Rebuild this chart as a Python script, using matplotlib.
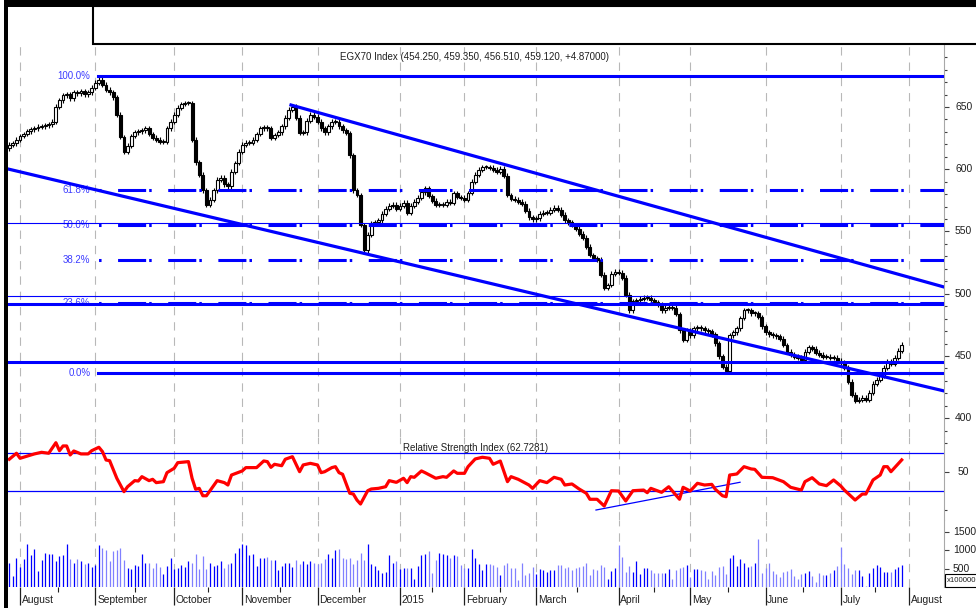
import numpy as np
import matplotlib.pyplot as plt
from matplotlib.patches import Rectangle

plt.rcParams['font.family'] = ['Liberation Sans', 'DejaVu Sans']
plt.rcParams['lines.scale_dashes'] = False

# EGX70 daily closes, end of July 2014 .. end of July 2015 (one per trading day)
closes = [
    619.5, 621, 623.5, 626.7, 628.3, 630.7, 632.3, 633, 634, 634.7, 635.5, 636.3, 638, 650, 655.6, 659.6, 660.4, 657.2,
    662, 661.2, 662.8, 660.4, 662, 665.3, 669.3, 671.7, 667.7, 663.7, 662, 658, 643.6, 625.9, 613.9, 618.7, 626.7,
    629.9, 630.7, 631.5, 633.1, 628.3, 625.1, 623.5, 621.9, 621.9, 633.1, 638, 643.6, 649.2, 652.4, 653.2, 653.2,
    623.5, 605.8, 595.4, 583.3, 571.3, 575.3, 583.3, 591.4,
    593, 588.1, 586.5, 597.8, 605, 613.9, 619.5, 621.1, 621.1, 623.5, 628.3, 633.1, 633.9, 633.1, 625.1, 627.5,
    629.9, 634.7, 641.2, 647.6, 650, 641.2, 629.1, 629.9, 638.8, 643.6, 642, 638, 633.1, 629.9, 634.7, 638, 638,
    634.7, 631.5, 629.1, 611.4, 583.3, 579.3, 555.2, 535.1, 547.2, 556.8, 557.6,
    559.2, 564.1, 568.1, 570.5, 571.3, 568.1, 570.5, 572.9, 564.9, 570.5, 573.7, 576.9, 581.7, 584.9, 578.5, 574.5,
    571.3, 571.3, 571.3, 573.7, 572.9, 580.9, 577.7, 576.9, 575.3, 580.9, 589.8, 595.4, 599.4, 601.8, 601.8, 601,
    599.4, 597.8, 600.2, 594.6, 579.3, 576.1,
    575.3, 573.7, 572.1, 566.5, 561.6, 560, 560.8, 564.1, 564.9, 564.9, 567.3, 568.9, 567.3, 563.3, 559.2, 557.6,
    555.2, 552, 548, 544.8, 537.6, 531.1, 528.7, 527.1, 515.1, 504.6, 507, 515.9, 517.5, 516.7, 512.7, 499, 486.9,
    494.1, 494.9, 495.8, 496.6, 496.6, 494.9, 493.3, 491.7,
    486.9, 488.6, 489.4, 488.6, 483.7, 470.8, 462.9, 470.8, 466.8, 472.4, 473.2, 472.4, 470.8, 470, 467.6, 460.4,
    449.9, 441.2, 438, 466.8, 469.2, 472.4, 480.5, 486.9, 486.9, 484.5, 484.5, 481.3, 474, 469.2, 467.6, 466.8, 466,
    463.7, 458.8, 453.2, 450.8, 449.2, 448.4, 446.8, 453.2,
    457.2, 455.6, 452.4, 450.8, 449.2, 449.2, 448.4, 448.4, 446, 444.4, 440.4, 429.1, 418.7, 413.9, 414.7, 416.3,
    414.7, 420.3, 427.5, 430.7, 434, 440.4, 445.2, 443.6,
    448.4, 454.3, 459.1,
]
first_open = 617.0

# volume, x100000
volumes = [
    655, 300, 790, 545, 755, 1183, 865, 1028, 437, 728, 937, 910, 910, 700, 837, 865, 1183, 755, 655, 755,
    700, 619, 655, 546, 592, 1156, 1065, 1001, 700, 974, 1001, 1065, 728, 519, 500, 592, 564, 910, 655, 655,
    519, 655, 546, 346, 564, 792, 500, 519, 592, 546, 710, 655, 910, 500, 837, 500, 655, 573, 592, 700,
    519, 637, 655, 937, 1074, 1183, 1156, 865, 892, 564, 792, 801, 819, 728, 728, 473, 564, 664, 664, 546,
    728, 619, 700, 637, 700, 655, 619, 655, 774, 910, 792, 1001, 1028, 792, 774, 792, 637, 728, 937, 728,
    1183, 619, 564, 455, 391, 410, 865, 664, 700, 500, 519, 519, 519, 228, 564, 865, 892, 974, 382, 728,
    937, 892, 865, 792, 883, 837, 592, 519, 519, 1028, 801, 637, 473, 637, 637, 592, 546,
    319, 592, 664, 528, 528, 200, 655, 337, 391, 546, 346, 482, 473, 410, 473, 473, 592, 610, 528, 546,
    473, 528, 546, 564, 664, 337, 482, 455, 592, 546, 228, 428, 519, 1156, 819, 410, 564, 410, 700, 346,
    519, 528, 473, 382, 382, 391, 382, 482, 228, 473, 519, 546, 610, 273, 482, 500, 473, 437, 228, 428,
    319, 546, 564, 346, 801, 865, 564, 774, 664, 546, 564, 655, 1320, 382, 519, 655, 428, 364, 273, 410,
    428, 482, 291, 228, 364, 382, 428, 300, 137, 382, 319, 337, 382, 473, 573, 1092, 619, 528, 346, 473,
    455, 291, 18, 382, 528, 592, 546, 410, 410, 410, 500, 546, 592,
]

# RSI read at selected bars
rsi_bars = [0, 2, 3, 7, 9, 11, 13, 14, 15, 16, 17, 18, 20, 22, 23, 25, 26, 27, 28, 30, 32, 33, 35, 36, 37, 39, 40,
            41, 43, 44, 46, 47, 50, 51, 52, 53, 54, 55, 58, 60, 61, 62, 65, 66, 69, 71, 72, 73, 74, 76, 77, 79, 81,
            82, 84, 86, 87, 88, 90, 91, 92, 93, 95, 96, 97, 98, 100, 101, 103, 105, 106, 108, 110, 111, 112, 113,
            115, 116, 119, 121, 122, 124, 125, 127, 128, 130, 132, 134, 135, 137, 139, 140, 142, 145, 146, 148,
            150, 152, 154, 155, 157, 159, 161, 162, 164, 166, 168, 170, 172, 174, 177, 178, 179, 182, 184, 187,
            188, 190, 192, 194, 196, 197, 199, 200, 201, 203, 205, 207, 208, 210, 213, 216, 218, 221, 222, 224,
            226, 228, 230, 232, 233, 235, 236, 238, 239, 241, 243, 244, 245, 246, 249]
rsi_vals = [63.4, 69.7, 64.4, 69, 70.7, 69.7, 80.8, 72.4, 77.4, 77.4, 67.9, 72.1, 69, 69, 72.4, 76, 71.4, 62.6,
            61.9, 43.4, 29.3, 34.5, 40.9, 40.5, 45.1, 40.9, 42.3, 38.8, 39.8, 49.3, 53.9, 59.8, 60.9, 43.4, 31.8,
            32.8, 25, 25, 40.9, 38.8, 36.3, 46.8, 51.1, 54.6, 54.6, 61.6, 60.9, 54.9, 58.1, 56.6, 63.4, 66.1, 50.3,
            57.4, 59.1, 57.4, 49.3, 50.3, 54.6, 55.6, 49.3, 47.6, 27.6, 26.8, 20.5, 16.3, 30.3, 32.1, 32.8, 34.5,
            40.9, 39.1, 43.4, 38.8, 45.1, 44.4, 51.1, 49.3, 43.4, 45.1, 44.4, 51.1, 48.6, 48.6, 55.6, 63.7, 65.5,
            64.4, 58.1, 61.5, 39.8, 45.1, 42.3, 36.3, 32.8, 40.9, 38.8, 44.4, 42.3, 36.3, 37.4, 32.1, 27.6, 21.3,
            21.3, 14.2, 30.3, 30, 19.5, 30.3, 31, 28.2, 32.8, 28.6, 34.5, 21.3, 33.9, 30, 38.1, 36.3, 37, 31.8, 25,
            24, 46.8, 47.9, 55.6, 53.2, 52.8, 44.4, 44, 39.8, 33.9, 31, 39.8, 44, 37.4, 35.6, 41.6, 35.3, 31, 24,
            20.5, 26.8, 26.8, 41.6, 46.8, 55.6, 55.6, 50.3, 62.7]

month_bars = [3, 24, 46, 65, 86, 109, 127, 147, 170, 190, 211, 232, 251]
month_names = ['August', 'September', 'October', 'November', 'December', '2015', 'February', 'March',
               'April', 'May', 'June', 'July', 'August']

# fibonacci retracement
fib_high = 674.9
fib_low = 436.1
fib_start = 24.7
fib_ratios = [1.0, 0.618, 0.5, 0.382, 0.236, 0.0]
fib_labels = ['100.0%', '61.8%', '50.0%', '38.2%', '23.6%', '0.0%']

# drawn lines
lower_channel = ([-0.36, 260.8], [600.2, 421.9])
upper_channel = ([78.6, 260.8], [651.6, 505.4])
thick_levels = [491.6, 444.9]
thin_levels = [556.6, 498.4]
rsi_trend = ([163.7, 203.9], [10.0, 39.2])
rsi_levels = [70, 30]

title = 'EGX70 Index (454.250, 459.350, 456.510, 459.120, +4.87000)'
rsi_title = 'Relative Strength Index (62.7281)'

W, H = 976, 608
BLUE = '#0000ff'
fig = plt.figure(figsize=(W / 100, H / 100), dpi=100)


def panel(top, bottom):
    return fig.add_axes([8 / W, 1 - bottom / H, 936 / W, (bottom - top) / H])


ax_p = panel(44, 437)
ax_r = panel(437, 520)
ax_v = panel(520, 587)
for ax in (ax_p, ax_r, ax_v):
    ax.set_xlim(-0.36, 260.8)
    for s in ('left', 'top', 'bottom'):
        ax.spines[s].set_visible(False)
    ax.spines['right'].set_color('#a8a8a8')
    ax.spines['right'].set_linewidth(0.8)
    ax.set_xticks([])
    ax.yaxis.tick_right()
    ax.tick_params(axis='y', which='both', direction='out', color='#404040', width=0.8,
                   labelright=False, labelleft=False)
    ax.tick_params(axis='y', which='major', length=3.8)
    ax.tick_params(axis='y', which='minor', length=2.0)
    ax.vlines(month_bars, 0, 1, transform=ax.get_xaxis_transform(), colors='#b8b8b8',
              linewidth=0.8, linestyles=(0, (6, 5)), zorder=0)

# price panel
ax_p.set_ylim(384.9, 700.6)
ax_p.set_yticks(range(400, 651, 50))
ax_p.set_yticks(range(390, 700, 10), minor=True)
for v in range(400, 651, 50):
    ax_p.text((955 - 8) / 936, v, str(v), transform=ax_p.get_yaxis_transform(),
              fontsize=7.5, va='center', ha='left', color='#202020')

x = np.arange(len(closes))
c = np.array(closes)
o = np.array([first_open] + closes[:-1])
lo = np.minimum(o, c)
hi = np.maximum(o, c)
up = c >= o
wick = 2.0
ax_p.vlines(x, lo - wick, hi + wick, colors='black', linewidth=0.8, zorder=2)
ax_p.bar(x, np.maximum(hi - lo, 0.6), bottom=lo, width=0.8,
         color=np.where(up, 'white', 'black'), edgecolor='black', linewidth=0.8, zorder=2)

fib_levels = [fib_low + r * (fib_high - fib_low) for r in fib_ratios]
for r, lvl, lab in zip(fib_ratios, fib_levels, fib_labels):
    if r in (0.0, 1.0):
        ax_p.plot([fib_start, 260.8], [lvl, lvl], color=BLUE, lw=2.2, zorder=3)
    else:
        ax_p.plot([fib_start, 260.8], [lvl, lvl], color=BLUE, lw=2.2, zorder=3,
                  linestyle=(22.0, (20.2, 2.2, 1.8, 11.9)))
    ax_p.text(22.6, lvl, lab, fontsize=7, color='#3c3cff', ha='right', va='center')

for lvl in thick_levels:
    ax_p.axhline(lvl, color=BLUE, lw=2.2, zorder=3)
for lvl in thin_levels:
    ax_p.axhline(lvl, color=BLUE, lw=0.8, zorder=3)
ax_p.plot(*lower_channel, color=BLUE, lw=2.3, zorder=3)
ax_p.plot(*upper_channel, color=BLUE, lw=2.3, zorder=3)
ax_p.text((475 - 8) / 936, (437 - 57) / 393, title, transform=ax_p.transAxes,
          fontsize=7, ha='center', va='center', color='#202020')

# RSI panel
ax_r.set_ylim(-0.5, 86.8)
ax_r.set_yticks([50])
ax_r.set_yticks([80, 10], minor=True)
ax_r.text((958 - 8) / 936, 50, '50', transform=ax_r.get_yaxis_transform(),
          fontsize=7.5, va='center', ha='left', color='#202020')
for lvl in rsi_levels:
    ax_r.axhline(lvl, color=BLUE, lw=0.9, zorder=2)
ax_r.plot(*rsi_trend, color=BLUE, lw=0.9, zorder=2)
ax_r.plot(rsi_bars, rsi_vals, color='#ff0000', lw=2.3, zorder=3, solid_joinstyle='round')
ax_r.text((403 - 8) / 936, (520 - 448) / 83, rsi_title, transform=ax_r.transAxes,
          fontsize=7, ha='left', va='center', color='#202020')

# volume panel
ax_v.set_ylim(0, 1829)
ax_v.set_yticks([500, 1000, 1500])
for v in (500, 1000, 1500):
    ax_v.text((953 - 8) / 936, v, str(v), transform=ax_v.get_yaxis_transform(),
              fontsize=7.5, va='center', ha='left', color='#202020')
ax_v.vlines(x, 0, volumes, colors=np.where(up, BLUE, '#8080ff'), linewidth=0.9, zorder=2)

# date axis
tr = ax_v.get_xaxis_transform()
ax_v.vlines(month_bars, -18 / 67, 0, transform=tr, colors='#202020', lw=0.9, clip_on=False)
minor_bars = [(a + b) / 2 for a, b in zip(month_bars[:-1], month_bars[1:])]
ax_v.vlines(minor_bars, -5 / 67, 0, transform=tr, colors='#202020', lw=0.8, clip_on=False)
for b, name in zip(month_bars, month_names):
    ax_v.text(b + 0.5, -13 / 67, name, transform=tr, fontsize=7.4, ha='left', va='center',
              color='#202020')

# frame decorations
fig.patches.append(Rectangle((4 / W, 1 - 6.5 / H), 1, 6.5 / H, transform=fig.transFigure,
                             facecolor='black', edgecolor='none'))
fig.patches.append(Rectangle((4 / W, 0), 3.5 / W, 1, transform=fig.transFigure,
                             facecolor='black', edgecolor='none'))
fig.patches.append(Rectangle((93 / W, 1 - 44 / H), 0.95, 38 / H, transform=fig.transFigure,
                             facecolor='white', edgecolor='black', lw=1.5))
fig.patches.append(Rectangle((945 / W, 1 - 587 / H), 0.06, 13 / H, transform=fig.transFigure,
                             facecolor='white', edgecolor='black', lw=0.8))
fig.text(946.5 / W, 1 - 580.5 / H, 'x100000', fontsize=5.6, va='center', ha='left', color='#202020')

fig.savefig('out.png', dpi=100)
